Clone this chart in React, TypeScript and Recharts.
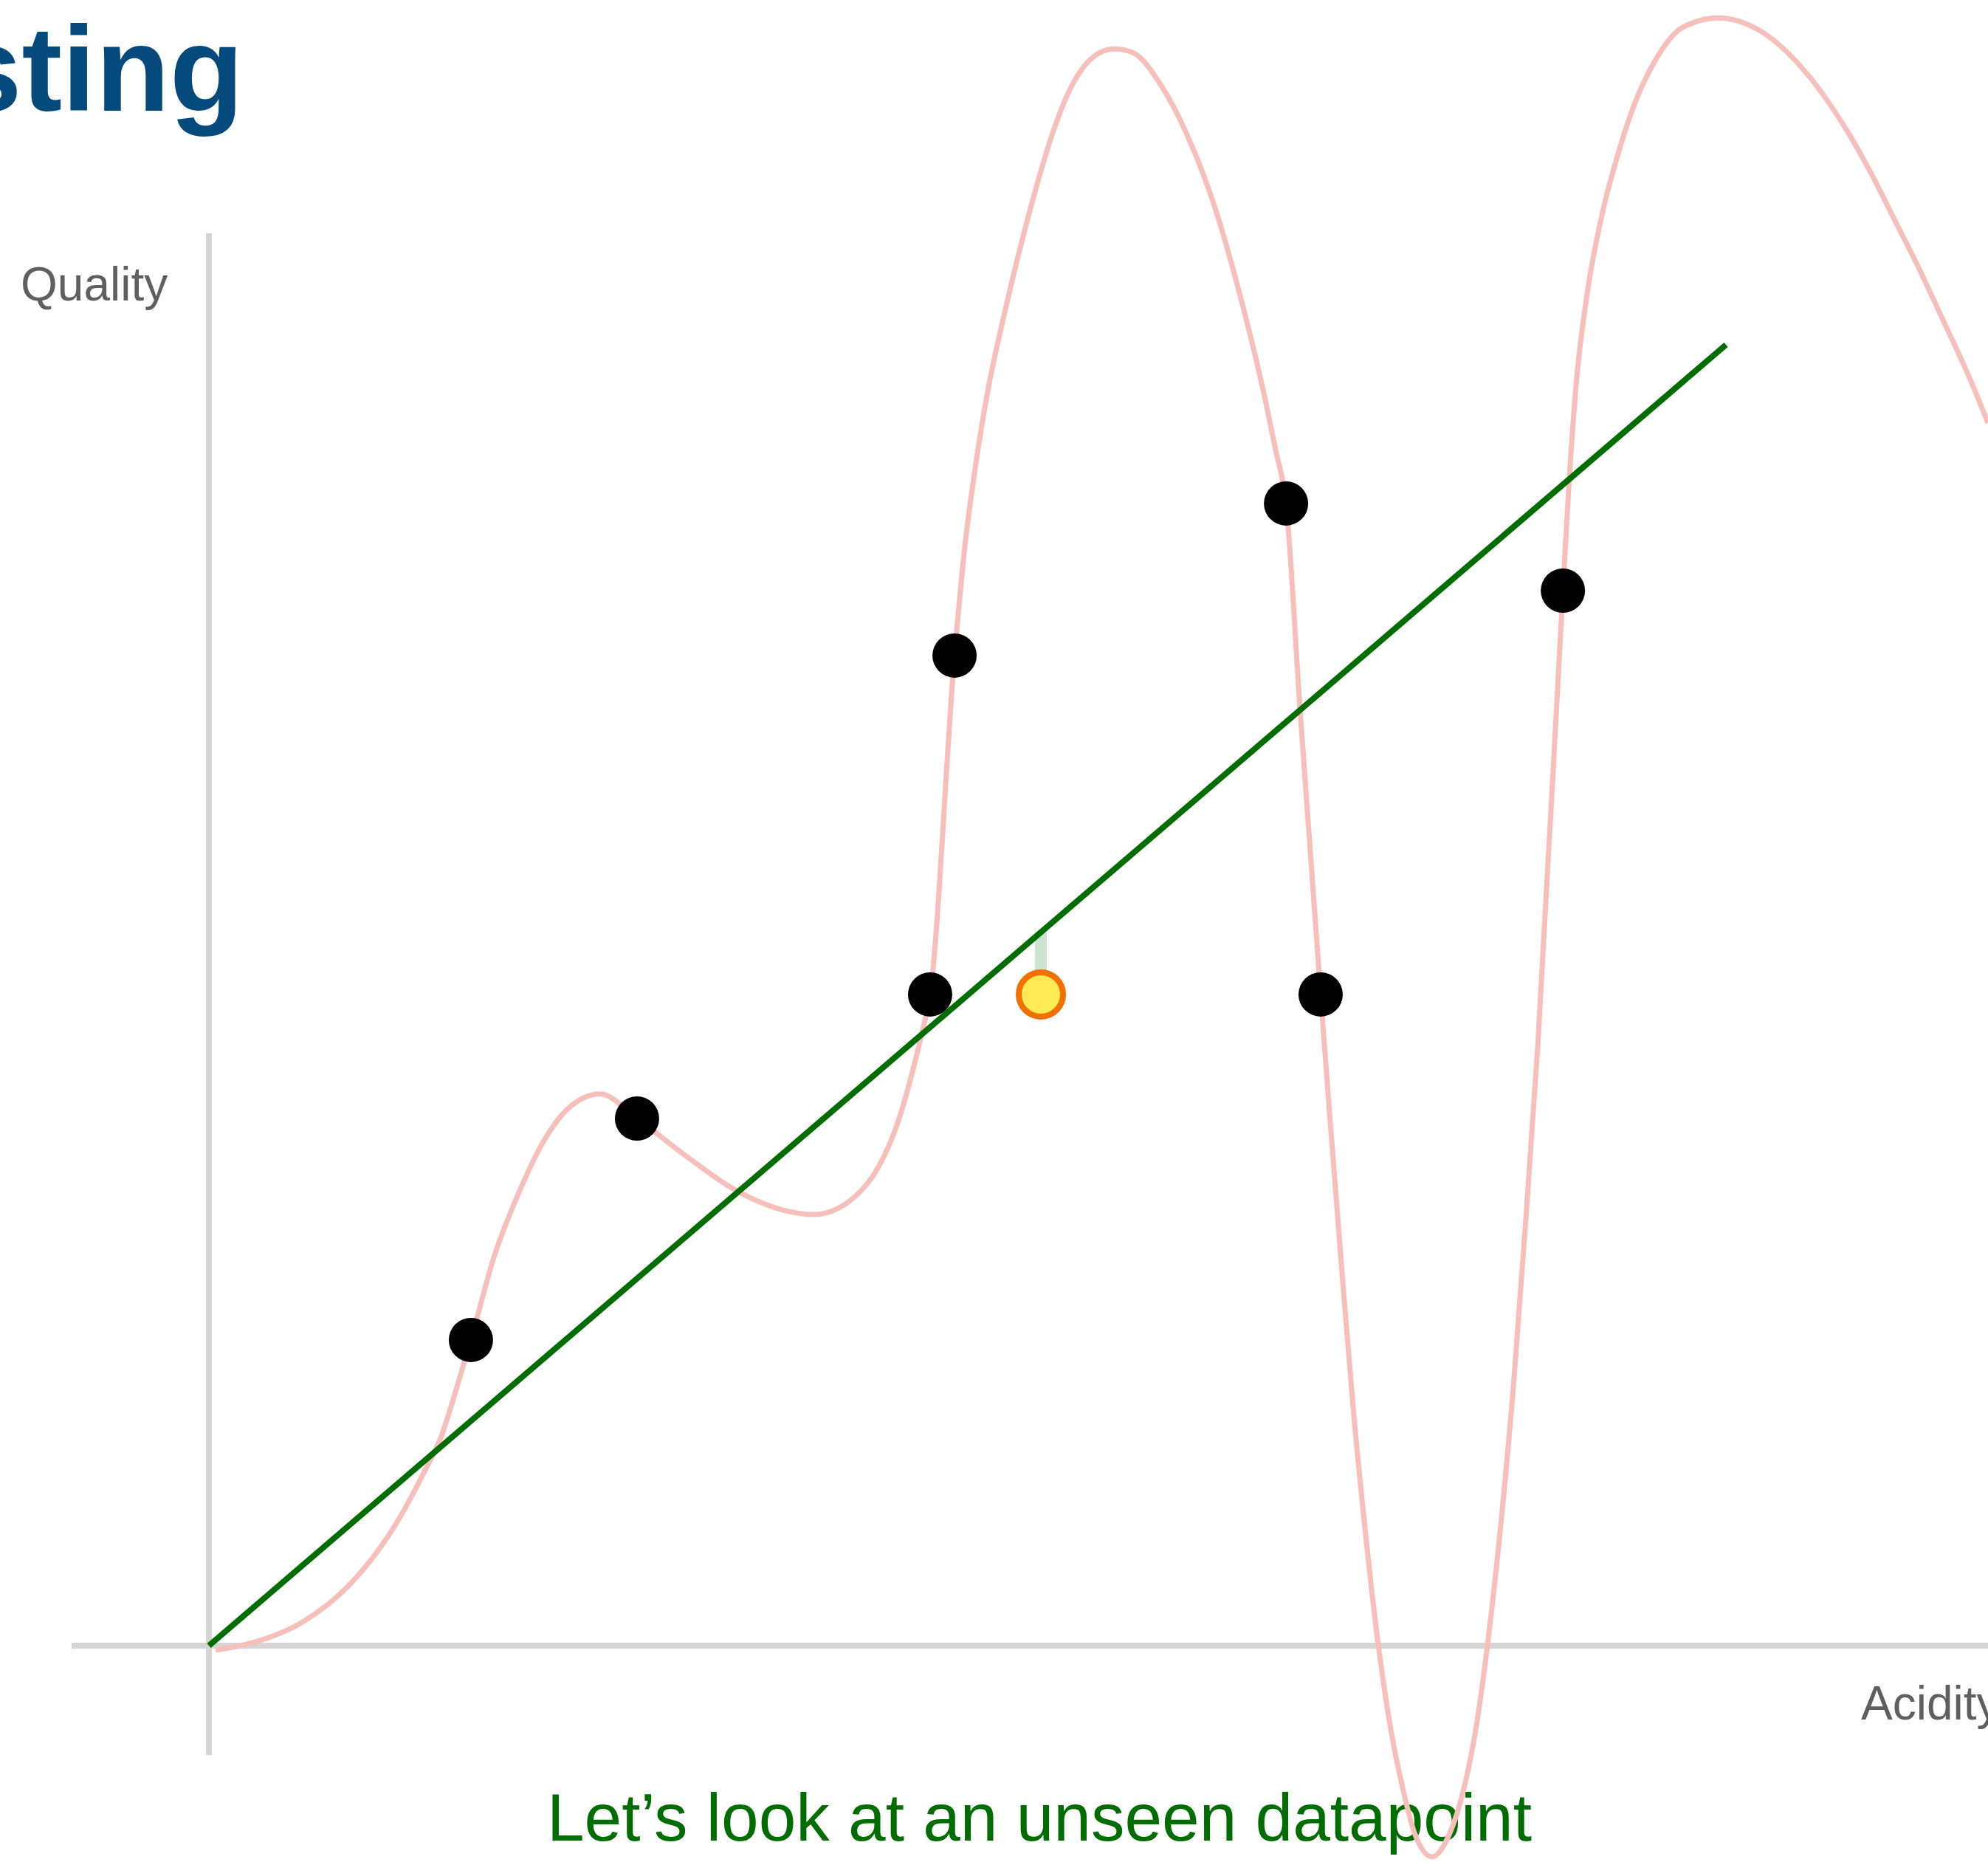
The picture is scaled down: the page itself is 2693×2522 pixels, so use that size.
import { ComposedChart, Line, Scatter, XAxis, YAxis, ReferenceLine } from 'recharts';

const W = 2693;
const H = 2522;

// training samples (acidity, quality)
const trainX = [1.727, 2.822, 4.754, 4.915, 7.1, 7.328, 8.925];
const trainY = [2.35, 4.052, 5.006, 7.611, 8.78, 5.006, 8.11];

// the unseen datapoint
const unseenX = [5.484];
const unseenY = [5.006];

// straight line fit
const fitX = [0, 10];
const fitY = [0, 10];

// overfitted curve
const curveX = [
    0.044, 0.302, 0.618, 0.934, 1.251, 1.411, 1.538, 1.63, 1.727, 1.883, 2.044, 2.2, 2.36, 2.579, 2.822,
    3.153, 3.47, 3.786, 3.99, 4.258, 4.418, 4.545, 4.637, 4.701, 4.754, 4.915, 4.983, 5.053, 5.14, 5.227,
    5.314, 5.401, 5.487, 5.575, 5.661, 5.748, 5.835, 5.922, 5.978, 6.096, 6.27, 6.443, 6.618, 6.791,
    6.965, 7.032, 7.1, 7.192, 7.328, 7.382, 7.465, 7.543, 7.625, 7.708, 7.786, 7.869, 7.951, 8.063,
    8.175, 8.273, 8.355, 8.428, 8.516, 8.599, 8.681, 8.759, 8.925, 8.967, 9.014, 9.082, 9.187, 9.275,
    9.392, 9.538, 9.714, 9.948, 10.209, 10.501, 10.788, 10.949, 11.114, 11.275, 11.436, 11.601, 11.727,
];
const curveY = [
    -0.034, 0.028, 0.182, 0.477, 0.97, 1.317, 1.629, 1.969, 2.35, 3.002, 3.485, 3.865, 4.12, 4.24, 4.052,
    3.757, 3.502, 3.348, 3.314, 3.451, 3.689, 4.035, 4.41, 4.716, 5.006, 7.611, 8.452, 9.067, 9.683, 10.153,
    10.588, 10.985, 11.347, 11.673, 11.927, 12.108, 12.217, 12.267, 12.274, 12.242, 12.006, 11.626, 11.101, 10.406,
    9.566, 9.188, 8.78, 7.202, 5.006, 4.166, 2.929, 1.822, 0.851, 0.006, -0.613, -1.095, -1.453, -1.623,
    -1.453, -1.095, -0.613, 0.006, 0.936, 1.998, 3.28, 4.608, 8.11, 8.969, 9.718, 10.37, 11.022, 11.413,
    11.836, 12.194, 12.439, 12.513, 12.424, 12.128, 11.663, 11.334, 10.953, 10.579, 10.176, 9.756, 9.398,
];

const trainData = trainX.map((x, i) => ({ x, y: trainY[i] }));
const unseenData = unseenX.map((x, i) => ({ x, y: unseenY[i] }));
const fitData = fitX.map((x, i) => ({ x, y: fitY[i] }));
const curveData = curveX.map((x, i) => ({ x, y: curveY[i] }));

// what the straight line predicts for the unseen point
const predicted = fitY[0] + ((unseenX[0] - fitX[0]) * (fitY[1] - fitY[0])) / (fitX[1] - fitX[0]);

const AXIS = '#d5d5d5';
const GREEN = '#006d00';
const FONT = '"Liberation Sans", Arial, Helvetica, sans-serif';

export default function App() {
    return (
        <div style={{ position: 'absolute', left: 0, top: 0, width: W, height: H, background: '#fff' }}>
            <svg width={W} height={H} style={{ position: 'absolute', left: 0, top: 0 }} fontFamily={FONT}>
                <text x={330} y={150} textAnchor="end" fontSize={164} fontWeight="bold" fill="#054a7c">
                    sting
                </text>
                <text x={28} y={407} fontSize={64} fill="#5f5f5f">
                    Quality
                </text>
                <text x={2521} y={2329} fontSize={64} fill="#5f5f5f">
                    Acidity
                </text>
                <text x={1408} y={2493} textAnchor="middle" fontSize={91} fill={GREEN}>
                    Let’s look at an unseen datapoint
                </text>
            </svg>
            <div style={{ position: 'absolute', left: 0, top: 0 }}>
                <ComposedChart width={W} height={H} margin={{ top: 0, right: 0, bottom: 0, left: 0 }}>
                    <XAxis type="number" dataKey="x" domain={[-1.377, 11.727]} allowDataOverflow hide />
                    <YAxis type="number" dataKey="y" domain={[-1.663, 12.65]} allowDataOverflow hide />
                    <ReferenceLine
                        segment={[{ x: 0, y: -0.84 }, { x: 0, y: 10.857 }]}
                        stroke={AXIS}
                        strokeWidth={8}
                    />
                    <ReferenceLine
                        segment={[{ x: -0.905, y: 0 }, { x: 11.727, y: 0 }]}
                        stroke={AXIS}
                        strokeWidth={8}
                    />
                    <Line
                        data={curveData}
                        dataKey="y"
                        type="monotone"
                        stroke="#f7bfba"
                        strokeWidth={7}
                        dot={false}
                        activeDot={false}
                        isAnimationActive={false}
                    />
                    <ReferenceLine
                        segment={[{ x: unseenX[0], y: predicted }, { x: unseenX[0], y: unseenY[0] }]}
                        stroke="#cde3cd"
                        strokeWidth={16}
                    />
                    <Line
                        data={fitData}
                        dataKey="y"
                        type="linear"
                        stroke={GREEN}
                        strokeWidth={8}
                        dot={false}
                        activeDot={false}
                        isAnimationActive={false}
                    />
                    <Scatter
                        data={trainData}
                        dataKey="y"
                        isAnimationActive={false}
                        shape={(p: any) => <circle cx={p.cx} cy={p.cy} r={30} fill="#000" />}
                    />
                    <Scatter
                        data={unseenData}
                        dataKey="y"
                        isAnimationActive={false}
                        shape={(p: any) => (
                            <circle cx={p.cx} cy={p.cy} r={30} fill="#fdeb55" stroke="#f07000" strokeWidth={8} />
                        )}
                    />
                </ComposedChart>
            </div>
        </div>
    );
}
